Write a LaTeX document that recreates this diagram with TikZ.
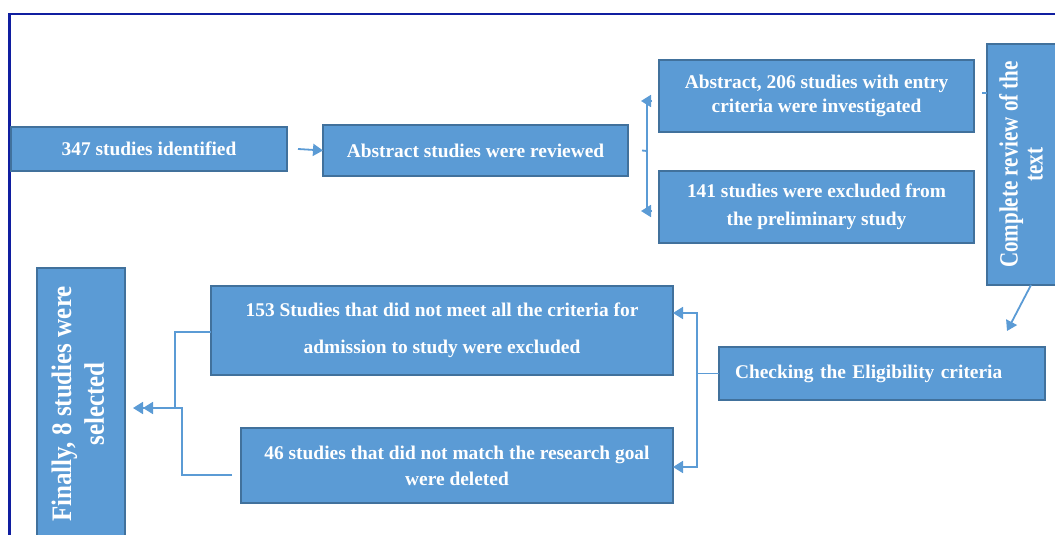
\documentclass[tikz,border=0pt]{standalone}
\usepackage{fontspec}
\setmainfont{Liberation Serif}
\usepackage{graphicx}
\usetikzlibrary{arrows.meta,calc}
\definecolor{boxfill}{HTML}{5B9BD5}
\definecolor{boxline}{HTML}{41719C}
\definecolor{conncol}{HTML}{5B9BD5}
\definecolor{framecol}{RGB}{16,30,160}
\begin{document}
\begin{tikzpicture}[x=1pt,y=-1pt,
  box/.style={draw=boxline, fill=boxfill, line width=1.5pt, inner sep=0pt, outer sep=0pt,
    text=white, font=\bfseries\fontsize{19.4}{23.5}\selectfont, align=center},
  conn/.style={draw=conncol, line width=1.8pt},
  tip/.style={-{Triangle[length=10pt,width=12pt]}},
  dtip/.style={-{Triangle[length=10pt,width=12pt]Triangle[length=10pt,width=12pt]}},
]
\useasboundingbox (0,0) rectangle (1055,535);
\begin{scope}
\clip (0,0) rectangle (1055,535);
\draw[framecol, line width=2.2pt] (9.5,545) -- (9.5,14) -- (1065,14);

\node[box, minimum width=276pt, minimum height=44pt] (n1) at (149,149) {347 studies identified};
\node[box, minimum width=305pt, minimum height=51pt] (n2) at (475.5,150.5) {Abstract studies were reviewed};
\node[box, minimum width=315pt, minimum height=72pt] (n3) at (816.5,96) {Abstract, 206 studies with entry\\criteria were investigated};
\node[box, minimum width=315pt, minimum height=72pt, font=\bfseries\fontsize{19.4}{28}\selectfont] (n4) at (816.5,207) {141 studies were excluded from\\the preliminary study};
\node[box, rotate=90, minimum width=241pt, minimum height=75pt] (rev) at (1024.5,164.5)
  {\scalebox{1}[1.25]{\fontsize{21}{20}\selectfont\begin{tabular}{@{}c@{}}Complete review of the\\ text\end{tabular}}};
\node[box, minimum width=326pt, minimum height=53pt, text width=294pt, inner xsep=16pt, align=left] (chk) at (882,373.5) {\raisebox{4pt}{Checking the Eligibility criteria}};
\node[box, minimum width=462pt, minimum height=89pt, font=\bfseries\fontsize{19.4}{37}\selectfont] (n153) at (442,330.5) {153 Studies that did not meet all the criteria for\\admission to study were excluded};
\node[box, minimum width=432pt, minimum height=75pt, font=\bfseries\fontsize{19.4}{26}\selectfont] (n46) at (457,465.5) {46 studies that did not match the research goal\\were deleted};
\node[box, rotate=90, minimum width=272pt, minimum height=88pt] (fin) at (81,404)
  {\scalebox{1}[1.13]{\fontsize{25}{29}\selectfont\begin{tabular}{@{}c@{}}Finally, 8 studies were\\ selected\end{tabular}}};

% connectors
\draw[conn, tip] ($(n1.east)+(11,0)$) -- (n2.west);

\coordinate (bj) at (647,151);
\draw[conn] ($(n2.east)+(14,0)$) -- (bj);
\draw[conn] (647,101) -- (647,211);
\draw[conn, tip] (652,101) -- (641,101);
\draw[conn, tip] (652,211) -- (641,211);

\coordinate (rs) at (982,93);
\draw[conn] (rs) -- (987,93);
\coordinate (ra) at (1031,285);
\coordinate (rb) at (1007,331);
\draw[conn, tip] (ra) -- (rb);

\coordinate (cj) at (697,373.5);
\draw[conn] (chk.west) -- (cj);
\draw[conn, tip] (cj) |- (n153.east |- 0,313);
\draw[conn, tip] (cj) |- (n46.east |- 0,467);

\coordinate (fj) at (175,408);
\coordinate (fk) at (182,408);
\draw[conn] (n153.west |- 0,332) -| (fj);
\draw[conn] ($(n46.west |- 0,475)+(-9,0)$) -| (fk) -- (fj);
\draw[conn, dtip] (fj) -- (133,408);
\end{scope}
\end{tikzpicture}
\end{document}
